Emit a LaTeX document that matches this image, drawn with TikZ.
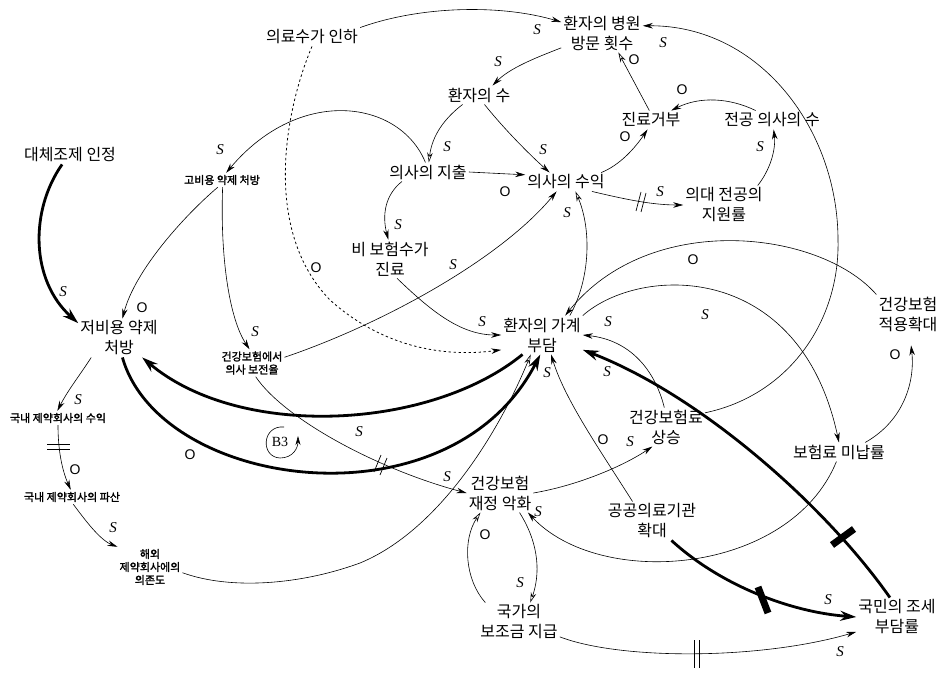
\documentclass[tikz,border=0pt]{standalone}
\usepackage{fontspec}
\setmainfont{Noto Sans CJK KR}
\newfontfamily\smkr[FakeBold=1.8]{Noto Sans CJK KR}
\newfontfamily\serifit{Liberation Serif}
\newfontfamily\lsans{Liberation Sans}
\usetikzlibrary{arrows.meta}
\begin{document}
\begin{tikzpicture}[x=1pt,y=-1pt,
  lab/.style={font=\fontsize{16}{20}\selectfont, align=center, inner sep=2pt},
  sm/.style={font=\smkr\fontsize{11}{13}\selectfont, align=center, inner sep=2pt},
  pS/.style={font=\serifit\itshape\fontsize{15}{15}\selectfont, inner sep=0pt},
  pO/.style={font=\lsans\fontsize{14}{14}\selectfont, inner sep=0pt},
  ar/.style={line width=0.6pt, -{Stealth[length=10pt,width=5.5pt]}},
  aro/.style={line width=0.6pt, -{Stealth[length=10pt,width=5.5pt,open,fill=white]}},
  dotarr/.style={line width=0.8pt, dash pattern=on 2.4pt off 2.6pt, -{Stealth[length=10pt,width=5.5pt]}},
  thk/.style={line width=2.8pt, -{Stealth[length=16pt,width=10pt]}},
  thko/.style={line width=2.8pt, -{Stealth[length=16pt,width=10pt,open,fill=white]}},
  dly/.style={line width=0.7pt},
  bar/.style={line width=7pt},
]
\useasboundingbox (0,0) rectangle (945,674);

% ---------- variables ----------
\node[lab] (uiryo) at (312,37) {의료수가 인하};
\node[lab] (visit) at (602,33) {환자의 병원\\방문 횟수};
\node[lab] (pnum) at (479,95) {환자의 수};
\node[lab] (dexp) at (428,172) {의사의 지출};
\node[lab] (dinc) at (566,182) {의사의 수익};
\node[lab] (refuse) at (651,120) {진료거부};
\node[lab] (spec) at (772,120) {전공 의사의 수};
\node[lab] (apply) at (724,205) {의대 전공의\\지원률};
\node[lab] (subst) at (70,155) {대체조제 인정};
\node[sm] (high) at (222,180) {고비용 약제 처방};
\node[lab] (noncov) at (390,259) {비 보험수가\\진료};
\node[lab] (low) at (119,338) {저비용 약제\\처방};
\node[sm] (comp) at (252,363) {건강보험에서\\의사 보전율};
\node[lab] (burden) at (542,335) {환자의 가계\\부담};
\node[lab] (expand) at (908,314) {건강보험\\적용확대};
\node[lab] (prem) at (666,427) {건강보험료\\상승};
\node[lab] (unpaid) at (839,452) {보험료 미납률};
\node[lab] (fin) at (500,493) {건강보험\\재정 악화};
\node[lab] (public) at (652,521) {공공의료기관\\확대};
\node[lab] (subsidy) at (519,622) {국가의\\보조금 지급};
\node[lab] (tax) at (897,617) {국민의 조세\\부담률};
\node[sm] (drev) at (58,418) {국내 제약회사의 수익};
\node[sm] (bank) at (72,497) {국내 제약회사의 파산};
\node[sm] (foreign) at (150,567) {해외\\제약회사에의\\의존도};

% ---------- connectors ----------
\draw[ar] (uiryo.north east) .. controls (420,6) and (500,4) .. (visit.165);
\draw[dotarr] (uiryo.south) .. controls (285,110) and (262,230) .. (330,300) .. controls (380,345) and (440,358) .. (burden.200);
\draw[ar] (visit.200) .. controls (535,58) and (510,68) .. (pnum.35);
\draw[aro] (pnum.210) .. controls (445,118) and (432,135) .. (dexp.85);
\draw[ar] (pnum.300) .. controls (505,130) and (530,155) .. (dinc.150);
\draw[ar] (dexp.east) -- (dinc.170);
\draw[ar] (dexp.200) .. controls (385,195) and (382,215) .. (noncov.95);
\draw[ar] (dinc.15) .. controls (620,165) and (635,148) .. (refuse.250);
\draw[aro] (refuse.100) -- (visit.-50);
\draw[ar] (spec.150) .. controls (730,98) and (700,96) .. (refuse.25);
\draw[ar] (apply.30) .. controls (770,170) and (776,150) .. (spec.-80);
\draw[ar] (dinc.-20) .. controls (620,198) and (650,205) .. (apply.west);
\draw[ar] (prem.20) .. controls (790,395) and (840,320) .. (838,240) .. controls (838,130) and (760,25) .. (visit.10);
\draw[ar] (dexp.105) .. controls (400,100) and (300,85) .. (high.60);
\draw[ar] (high.240) .. controls (185,215) and (135,270) .. (low.80);
\draw[ar] (high.275) .. controls (220,260) and (230,320) .. (comp.100);
\draw[thko] (subst.230) .. controls (30,210) and (30,280) .. (low.160);
\draw[ar] (low.215) .. controls (80,375) and (68,390) .. (drev.95);
\draw[ar] (drev.south) .. controls (58,450) and (62,470) .. (bank.100);
\draw[ar] (bank.-80) .. controls (85,520) and (100,540) .. (foreign.north west);
\draw[aro] (foreign.-10) .. controls (230,590) and (300,585) .. (360,563) .. controls (440,530) and (500,430) .. (burden.240);
\draw[ar] (noncov.-70) .. controls (430,310) and (460,335) .. (burden.west);
\draw[ar] (comp.10) .. controls (380,325) and (500,260) .. (dinc.225);
\draw[aro] (burden.35) .. controls (590,280) and (592,230) .. (dinc.-45);
\draw[ar] (expand.north west) .. controls (820,230) and (650,210) .. (burden.40);
\draw[ar] (burden.north east) .. controls (640,265) and (800,260) .. (unpaid.north);
\draw[ar, shorten >=12pt] (unpaid.20) .. controls (905,420) and (915,380) .. (expand.-85);
\draw[ar] (unpaid.-105) .. controls (790,575) and (600,590) .. (fin.-35);
\draw[ar] (fin.east) .. controls (580,485) and (625,465) .. (prem.235);
\draw[ar] (public.135) .. controls (600,450) and (565,400) .. (burden.-65);
\draw[thko] (public.-45) .. controls (720,585) and (790,612) .. (tax.west);
\draw[thk] (tax.110) .. controls (825,505) and (700,395) .. (burden.-20);
\draw[ar] (prem.95) .. controls (655,370) and (630,340) .. (burden.east);
\draw[thko] (low.-80) .. controls (160,490) and (450,530) .. (burden.-95);
\draw[thko] (burden.225) .. controls (430,430) and (240,440) .. (low.-40);
\draw[ar] (comp.-75) .. controls (285,420) and (380,470) .. (fin.west);
\draw[aro] (subsidy.150) .. controls (465,580) and (462,540) .. (fin.225);
\draw[aro] (fin.-45) .. controls (540,545) and (540,575) .. (subsidy.60);
\draw[ar] (subsidy.-20) .. controls (620,660) and (760,660) .. (tax.200);

% ---------- delay marks and bars ----------
\draw[dly] (636,211) -- (641,192) (641,212) -- (646,193);
\draw[dly] (47,444) -- (70,444) (47,449) -- (70,449);
\draw[dly] (374,472) -- (381,455) (380,475) -- (387,458);
\draw[dly] (694,640) -- (694,668) (699,640) -- (699,668);
\draw[bar] (758,587) -- (768,613);
\draw[bar] (832,545) -- (854,529);

% ---------- loop marker ----------
\node[font=\serifit\fontsize{14}{14}\selectfont, inner sep=0pt] (b3) at (280,442) {B3};
\draw[line width=0.6pt, -{Stealth[length=9pt,width=5pt]}] (284,427) .. controls (262,425) and (260,457) .. (280,458) .. controls (293,458) and (298,448) .. (298,436);

% ---------- polarity labels ----------
\foreach \p [count=\i] in {(537,30),(498,62),(447,147),(543,150),(398,225),(663,43),(760,147),(660,192),(220,150),(255,332),(63,292),(78,400),(113,528),(482,322),(453,265),(567,213),(608,322),(607,372),(547,373),(705,315),(630,442),(538,512),(520,583),(840,652),(828,600),(447,477),(359,432)}
  \node[pS] (s\i) at \p {S};
\foreach \p [count=\i] in {(316,268),(505,192),(625,137),(634,60),(682,90),(142,308),(75,470),(190,455),(693,260),(895,355),(603,440),(485,535)}
  \node[pO] (o\i) at \p {O};
\end{tikzpicture}
\end{document}
